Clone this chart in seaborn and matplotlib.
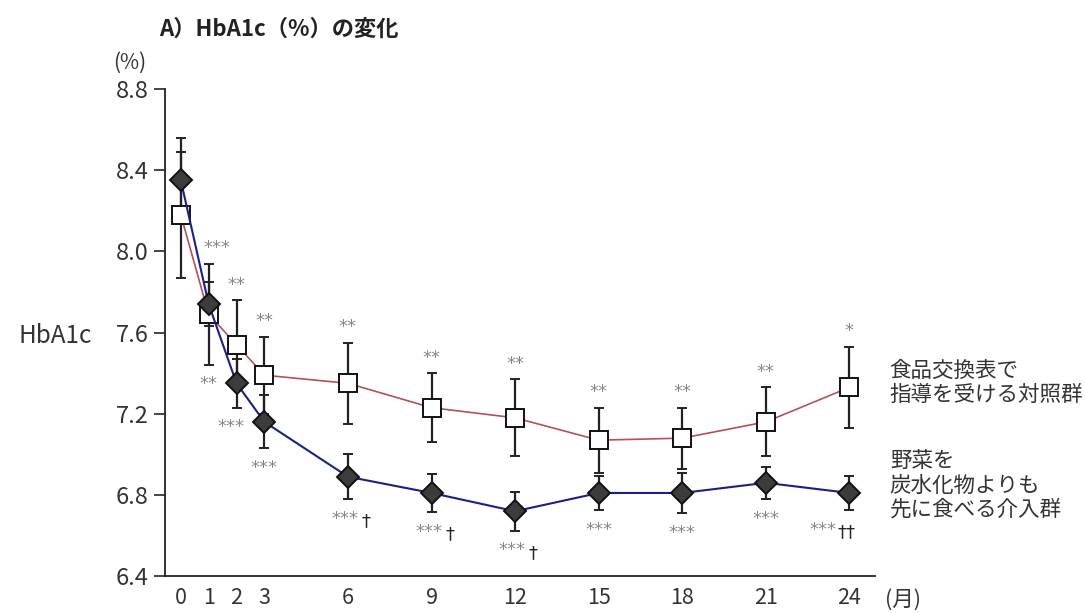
import matplotlib
matplotlib.use('Agg')
import matplotlib.pyplot as plt
import seaborn as sns

# data
months = [0, 1, 2, 3, 6, 9, 12, 15, 18, 21, 24]
month_labels = ['0', '1', '2', '3', '6', '9', '12', '15', '18', '21', '24']
control_mean = [8.18, 7.69, 7.54, 7.39, 7.35, 7.23, 7.18, 7.07, 7.08, 7.16, 7.33]
control_err = [0.31, 0.25, 0.22, 0.19, 0.20, 0.17, 0.19, 0.16, 0.15, 0.17, 0.20]
veg_mean = [8.35, 7.74, 7.35, 7.16, 6.89, 6.81, 6.72, 6.81, 6.81, 6.86, 6.81]
veg_err = [0.21, 0.11, 0.12, 0.13, 0.11, 0.095, 0.095, 0.085, 0.10, 0.08, 0.085]

upper_marks = ['', '***', '**', '**', '**', '**', '**', '**', '**', '**', '*']
lower_marks = ['', '**', '***', '***', '***', '***', '***', '***', '***', '***', '***']
daggers = ['', '', '', '', '†', '†', '†', '', '', '', '††']

y_ticks = [6.4, 6.8, 7.2, 7.6, 8.0, 8.4, 8.8]

control_label = '食品交換表で\n指導を受ける対照群'
veg_label = '野菜を\n炭水化物よりも\n先に食べる介入群'

sns.set_style('ticks')
plt.rcParams['font.family'] = ['Noto Sans CJK JP', 'DejaVu Sans']

fig = plt.figure(figsize=(10.85, 6.13), dpi=100)
ax = fig.add_axes([0.152, 0.06, 0.654, 0.795])

# error bars first, markers over them
ax.errorbar(months, control_mean, yerr=control_err, fmt='none', ecolor='#222222',
            elinewidth=1.6, capsize=3.5, capthick=1.4, zorder=2)
ax.errorbar(months, veg_mean, yerr=veg_err, fmt='none', ecolor='#222222',
            elinewidth=1.6, capsize=3.5, capthick=1.4, zorder=2)

sns.lineplot(x=months, y=control_mean, ax=ax, color='#b5505a', linewidth=1.2,
             marker='s', markersize=13.5, markerfacecolor='white',
             markeredgecolor='#111111', markeredgewidth=1.4, zorder=3)
sns.lineplot(x=months, y=veg_mean, ax=ax, color='#1c1f86', linewidth=1.5,
             marker='D', markersize=11.5, markerfacecolor='#3c3c3c',
             markeredgecolor='#111111', markeredgewidth=1.4, zorder=4)

# significance marks
star_font = dict(fontsize=13, color='#888888', family='DejaVu Sans')
dag_font = dict(fontsize=13, color='#222222', family='DejaVu Sans')
for i, m in enumerate(months):
    top = max(control_mean[i] + control_err[i], veg_mean[i] + veg_err[i])
    bot = min(control_mean[i] - control_err[i], veg_mean[i] - veg_err[i])
    if upper_marks[i]:
        dx = 6 if m == 1 else 0
        ax.annotate(upper_marks[i], (m, top), xytext=(dx, 11), textcoords='offset points',
                    ha='center', va='center', **star_font)
    if lower_marks[i]:
        dx = -4 if m == 2 else 0
        dag_dx = 13
        if daggers[i] == '††':
            dx, dag_dx = -19, -2
        elif daggers[i]:
            dx = -2
        ax.annotate(lower_marks[i], (m, bot), xytext=(dx, -14), textcoords='offset points',
                    ha='center', va='center', **star_font)
        if daggers[i]:
            ax.annotate(daggers[i], (m, bot), xytext=(dag_dx, -16), textcoords='offset points',
                        ha='center', va='center', **dag_font)

ax.set_xlim(-0.57, 24.9)
ax.set_ylim(6.4, 8.8)
ax.set_yticks(y_ticks)
ax.set_yticklabels([f'{v:.1f}' for v in y_ticks])
ax.set_xticks(months)
ax.set_xticklabels(month_labels)
ax.tick_params(axis='y', length=8, width=1.2, labelsize=17, labelcolor='#333333', pad=4)
ax.tick_params(axis='x', length=0, labelsize=15.5, labelcolor='#333333', pad=8)
for s in ['top', 'right']:
    ax.spines[s].set_visible(False)
ax.spines['left'].set_linewidth(1.3)
ax.spines['bottom'].set_linewidth(1.3)
ax.spines['left'].set_color('#222222')
ax.spines['bottom'].set_color('#222222')

fig.text(0.147, 0.953, 'A）HbA1c（%）の変化', fontsize=16, fontweight='bold',
         color='#222222', va='center')
fig.text(0.104, 0.897, '(%)', fontsize=15, color='#333333', va='center')
fig.text(0.017, 0.452, 'HbA1c', fontsize=17.5, color='#333333', va='center')
fig.text(0.816, 0.022, '(月)', fontsize=15.5, color='#333333', va='center')
fig.text(0.82, 0.375, control_label, fontsize=15.5, color='#333333', va='center', linespacing=1.15)
fig.text(0.82, 0.208, veg_label, fontsize=15.5, color='#333333', va='center', linespacing=1.15)

plt.savefig('out.png', dpi=100)
